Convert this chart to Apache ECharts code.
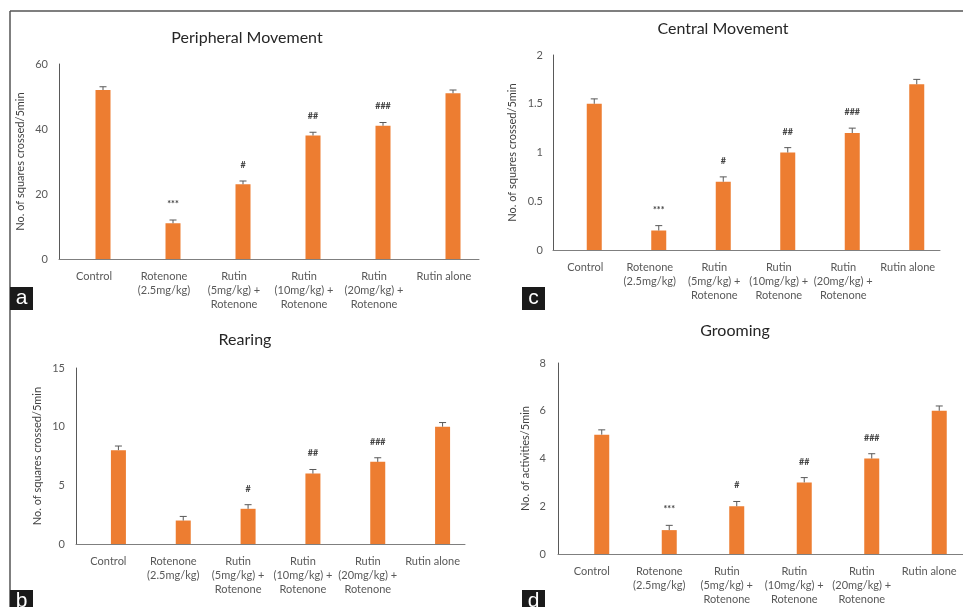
<!DOCTYPE html>
<html>
<head>
<meta charset="utf-8">
<script src="https://cdn.jsdelivr.net/npm/echarts@6/dist/echarts.min.js"></script>
<style>
html,body{margin:0;padding:0;background:#fff;}
#c{width:963px;height:607px;}
</style>
</head>
<body>
<div id="c"></div>
<script>
// ---- data ----
const categories = ['Control', 'Rotenone\n(2.5mg/kg)', 'Rutin\n(5mg/kg) +\nRotenone', 'Rutin\n(10mg/kg) +\nRotenone', 'Rutin\n(20mg/kg) +\nRotenone', 'Rutin alone'];

const peripheralValues = [52, 11, 23, 38, 41, 51];
const peripheralErrors = [1, 1, 1, 1, 1, 1];
const peripheralMarks = ['', '***', '#', '##', '###', ''];

const centralValues = [1.5, 0.2, 0.7, 1.0, 1.2, 1.7];
const centralErrors = [0.05, 0.05, 0.05, 0.05, 0.05, 0.05];
const centralMarks = ['', '***', '#', '##', '###', ''];

const rearingValues = [8, 2, 3, 6, 7, 10];
const rearingErrors = [0.35, 0.35, 0.35, 0.35, 0.35, 0.35];
const rearingMarks = ['', '', '#', '##', '###', ''];

const groomingValues = [5, 1, 2, 3, 4, 6];
const groomingErrors = [0.2, 0.2, 0.2, 0.2, 0.2, 0.2];
const groomingMarks = ['', '***', '#', '##', '###', ''];

const peripheralTicks = {min: 0, max: 60, interval: 20};
const centralTicks = {min: 0, max: 2, interval: 0.5};
const rearingTicks = {min: 0, max: 15, interval: 5};
const groomingTicks = {min: 0, max: 8, interval: 2};

// ---- layout ----
const FONT = 'Lato';
const ORANGE = '#ED7D31';
const panels = [
  {title: 'Peripheral Movement', tx: 247, ty: 38, grid: {left: 59, top: 64, width: 420, height: 195}, ticks: peripheralTicks,
   name: 'No. of squares crossed/5min', nameGap: 33, labelMargin: 11, values: peripheralValues, errors: peripheralErrors, marks: peripheralMarks, gap: 20},
  {title: 'Central Movement', tx: 723, ty: 29, grid: {left: 553, top: 55, width: 387, height: 195}, ticks: centralTicks,
   name: 'No. of squares crossed/5min', nameGap: 35, labelMargin: 10, values: centralValues, errors: centralErrors, marks: centralMarks, gap: 20},
  {title: 'Rearing', tx: 245, ty: 340, grid: {left: 76, top: 368, width: 389, height: 176}, ticks: rearingTicks,
   name: 'No. of squares crossed/5min', nameGap: 33, labelMargin: 11, values: rearingValues, errors: rearingErrors, marks: rearingMarks, gap: 33.3},
  {title: 'Grooming', tx: 735, ty: 331, grid: {left: 558, top: 363, width: 406, height: 191}, ticks: groomingTicks,
   name: 'No. of activities/5min', nameGap: 27, labelMargin: 12, values: groomingValues, errors: groomingErrors, marks: groomingMarks, gap: 33.3}
];
const BAR_W = 15;

const grids = [], xAxes = [], yAxes = [], series = [], graphics = [];

panels.forEach((p, i) => {
  grids.push(Object.assign({containLabel: false}, p.grid));
  xAxes.push({
    type: 'category', gridIndex: i, data: categories,
    axisLine: {lineStyle: {color: '#7f7f7f', width: 1}},
    axisTick: {show: false},
    axisLabel: {interval: 0, color: '#595959', fontFamily: FONT, fontSize: 11, lineHeight: 14, margin: 10}
  });
  yAxes.push({
    type: 'value', gridIndex: i, min: p.ticks.min, max: p.ticks.max, interval: p.ticks.interval,
    name: p.name, nameLocation: 'middle', nameGap: p.nameGap, nameRotate: 90,
    nameTextStyle: {color: '#404040', fontFamily: FONT, fontSize: 11},
    axisLine: {show: true, lineStyle: {color: '#595959', width: 1}},
    axisTick: {show: false},
    splitLine: {show: false},
    axisLabel: {color: '#595959', fontFamily: FONT, fontSize: 11, margin: p.labelMargin}
  });
  // ghost series (keeps the Excel-style offset of the visible bar)
  series.push({
    type: 'bar', xAxisIndex: i, yAxisIndex: i, barWidth: BAR_W, barGap: p.gap + '%',
    data: p.values.map(() => null), itemStyle: {color: 'transparent'}, silent: true
  });
  series.push({
    type: 'bar', xAxisIndex: i, yAxisIndex: i, barWidth: BAR_W, barGap: p.gap + '%',
    data: p.values, itemStyle: {color: ORANGE}
  });
  const offset = (BAR_W + BAR_W * p.gap / 100) / 2;
  series.push({
    type: 'custom', xAxisIndex: i, yAxisIndex: i, z: 5, silent: true,
    data: p.values.map((v, k) => [k, v, p.errors[k]]),
    renderItem: function (params, api) {
      const k = api.value(0), v = api.value(1), e = api.value(2);
      const top = api.coord([k, v + e]);
      const base = api.coord([k, v]);
      const cx = top[0] + offset;
      const children = [
        {type: 'line', shape: {x1: cx, y1: base[1], x2: cx, y2: top[1]}, style: {stroke: '#595959', lineWidth: 1}},
        {type: 'line', shape: {x1: cx - 3.5, y1: top[1], x2: cx + 3.5, y2: top[1]}, style: {stroke: '#595959', lineWidth: 1}}
      ];
      const m = p.marks[params.dataIndex];
      if (m) {
        children.push({type: 'text', style: {text: m, x: cx, y: top[1] - 16, textAlign: 'center', textVerticalAlign: 'middle',
          fill: '#404040', font: 'bold 9px ' + FONT}});
      }
      return {type: 'group', children: children};
    }
  });
  graphics.push({type: 'text', left: p.tx, top: p.ty, style: {text: p.title, x: 0, y: 0, fill: '#262626', font: '16px ' + FONT, textAlign: 'center', textVerticalAlign: 'middle'}});
});

// panel letters and frame
const panelLetters = [
  {t: 'a', x: 10, y: 287}, {t: 'c', x: 522, y: 287}, {t: 'b', x: 10, y: 590}, {t: 'd', x: 522, y: 590}
];
const frame = [];
frame.push({type: 'line', shape: {x1: 10, y1: 11, x2: 963, y2: 11}, style: {stroke: '#555', lineWidth: 1.5}});
frame.push({type: 'line', shape: {x1: 10, y1: 11, x2: 10, y2: 607}, style: {stroke: '#555', lineWidth: 1.5}});
panelLetters.forEach(l => {
  frame.push({type: 'rect', shape: {x: l.x, y: l.y, width: 23, height: 23}, style: {fill: '#1a1a1a'}});
  frame.push({type: 'text', style: {text: l.t, x: l.x + 11.5, y: l.y + 11, fill: '#fff', font: '21px "Liberation Sans"', textAlign: 'center', textVerticalAlign: 'middle'}});
});

const chart = echarts.init(document.getElementById('c'), null, {renderer: 'canvas'});
chart.setOption({
  backgroundColor: '#fff',
  animation: false,
  grid: grids,
  xAxis: xAxes,
  yAxis: yAxes,
  series: series,
  graphic: graphics.map(g => ({type: 'text', position: [g.left, g.top], style: g.style})).concat(frame)
});
</script>
</body>
</html>
